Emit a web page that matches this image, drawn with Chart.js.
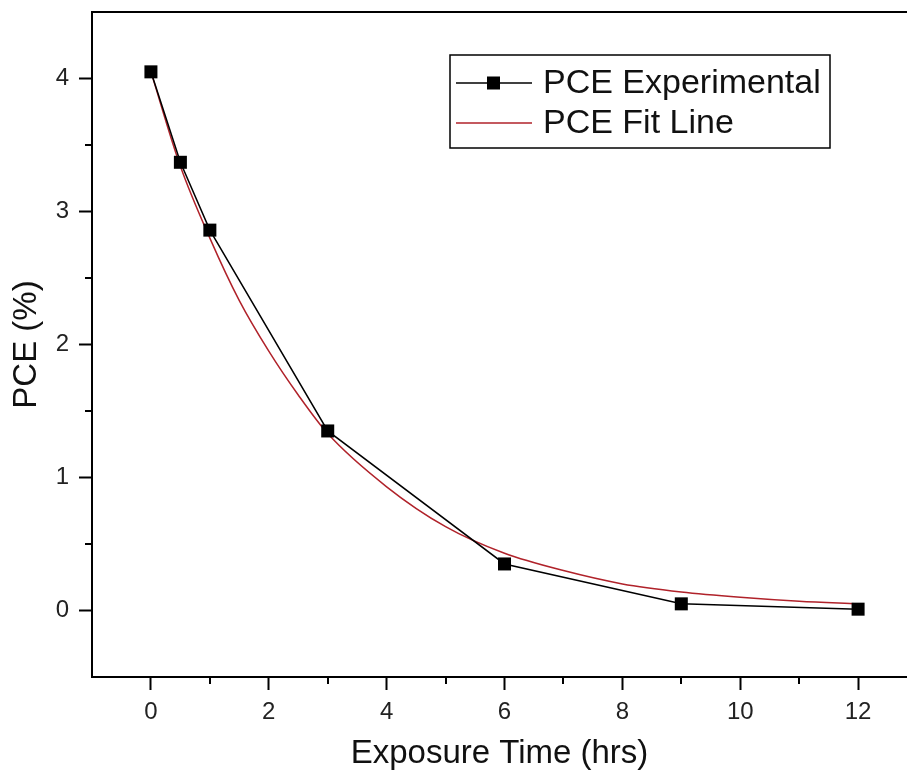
<!DOCTYPE html>
<html>
<head>
<meta charset="utf-8">
<script src="https://cdn.jsdelivr.net/npm/chart.js@4/dist/chart.umd.min.js"></script>
<style>
  html, body { margin: 0; padding: 0; background: #fff; }
  #wrap { width: 907px; height: 780px; position: relative; }
</style>
</head>
<body>
<div id="wrap"><canvas id="c" width="907" height="780"></canvas></div>
<script>
// ---- data ----
const expTime = [0, 0.5, 1, 3, 6, 9, 12];
const expPCE  = [4.05, 3.37, 2.86, 1.35, 0.35, 0.05, 0.01];

const fitTime = [0, 0.5, 1, 1.5, 2, 2.5, 3, 4, 5, 6, 7, 8, 9, 10, 11, 12];
const fitPCE  = [4.05, 3.34, 2.80, 2.33, 1.95, 1.62, 1.33, 0.93, 0.63, 0.43, 0.30, 0.20, 0.14, 0.10, 0.07, 0.05];

const xTickValues = [0, 2, 4, 6, 8, 10, 12];
const xMinorTicks = [1, 3, 5, 7, 9, 11];
const yTickValues = [0, 1, 2, 3, 4];
const yMinorTicks = [0.5, 1.5, 2.5, 3.5];

const seriesNames = ['PCE Experimental', 'PCE Fit Line'];
const xTitle = 'Exposure Time (hrs)';
const yTitle = 'PCE (%)';

const FONT = "'Liberation Sans', Arial, sans-serif";
const RED = '#b0222a';

const zip = (xs, ys) => xs.map((x, i) => ({ x: x, y: ys[i] }));

const extras = {
  id: 'extras',
  afterDraw(chart) {
    const ctx = chart.ctx;
    const ca = chart.chartArea;
    const xs = chart.scales.x, ys = chart.scales.y;
    ctx.save();
    ctx.strokeStyle = '#000';
    ctx.lineWidth = 2;
    // top frame line
    ctx.beginPath();
    ctx.moveTo(ca.left - 1, ca.top);
    ctx.lineTo(ca.right, ca.top);
    ctx.stroke();
    // minor ticks
    ctx.lineWidth = 2;
    xMinorTicks.forEach(v => {
      const px = Math.round(xs.getPixelForValue(v));
      ctx.beginPath();
      ctx.moveTo(px, ca.bottom);
      ctx.lineTo(px, ca.bottom + 7);
      ctx.stroke();
    });
    yMinorTicks.forEach(v => {
      const py = Math.round(ys.getPixelForValue(v));
      ctx.beginPath();
      ctx.moveTo(ca.left, py);
      ctx.lineTo(ca.left - 7, py);
      ctx.stroke();
    });
    // legend
    const bx = 450, by = 55, bw = 380, bh = 93;
    ctx.fillStyle = '#fff';
    ctx.fillRect(bx, by, bw, bh);
    ctx.lineWidth = 1.5;
    ctx.strokeStyle = '#000';
    ctx.strokeRect(bx, by, bw, bh);
    const rows = [83, 123];
    // row 1
    ctx.beginPath();
    ctx.moveTo(456, rows[0]);
    ctx.lineTo(532, rows[0]);
    ctx.lineWidth = 1.5;
    ctx.strokeStyle = '#000';
    ctx.stroke();
    ctx.fillStyle = '#000';
    ctx.fillRect(487, rows[0] - 6.5, 13, 13);
    // row 2
    ctx.beginPath();
    ctx.moveTo(456, rows[1]);
    ctx.lineTo(532, rows[1]);
    ctx.strokeStyle = RED;
    ctx.stroke();
    ctx.fillStyle = '#111';
    ctx.font = '34px ' + FONT;
    ctx.textBaseline = 'middle';
    ctx.textAlign = 'left';
    ctx.fillText(seriesNames[0], 543, rows[0] + 1);
    ctx.fillText(seriesNames[1], 543, rows[1] + 1);
    ctx.restore();
  }
};

new Chart(document.getElementById('c'), {
  type: 'scatter',
  data: {
    datasets: [
      {
        label: seriesNames[0],
        data: zip(expTime, expPCE),
        showLine: true,
        borderColor: '#000',
        borderWidth: 1.5,
        backgroundColor: '#000',
        pointStyle: 'rect',
        pointRadius: 9.2,
        pointHoverRadius: 9.2,
        pointBorderWidth: 0,
        tension: 0
      },
      {
        label: seriesNames[1],
        data: zip(fitTime, fitPCE),
        showLine: true,
        borderColor: RED,
        borderWidth: 1.5,
        pointRadius: 0,
        cubicInterpolationMode: 'monotone'
      }
    ]
  },
  options: {
    responsive: false,
    animation: false,
    events: [],
    layout: { autoPadding: false, padding: { top: 12, right: 0, left: 0, bottom: 0 } },
    plugins: { legend: { display: false }, tooltip: { enabled: false } },
    scales: {
      x: {
        type: 'linear',
        min: -1,
        max: 12.83,
        afterBuildTicks: s => { s.ticks = xTickValues.map(v => ({ value: v })); },
        afterFit: s => { s.height = 103; s.paddingLeft = 0; s.paddingRight = 0; },
        border: { color: '#000', width: 2 },
        grid: { drawOnChartArea: false, drawTicks: true, tickLength: 13, tickColor: '#000', tickWidth: 2 },
        ticks: { color: '#222', font: { family: FONT, size: 24 }, padding: 8, maxRotation: 0 },
        title: { display: true, text: xTitle, color: '#111', font: { family: FONT, size: 33 }, padding: { top: 0, bottom: 6 } }
      },
      y: {
        type: 'linear',
        min: -0.5,
        max: 4.5,
        afterBuildTicks: s => { s.ticks = yTickValues.map(v => ({ value: v })); },
        afterFit: s => { s.width = 92; s.paddingTop = 0; s.paddingBottom = 0; },
        border: { color: '#000', width: 2 },
        grid: { drawOnChartArea: false, drawTicks: true, tickLength: 13, tickColor: '#000', tickWidth: 2 },
        ticks: { color: '#222', font: { family: FONT, size: 24 }, padding: 10 },
        title: { display: true, text: yTitle, color: '#111', font: { family: FONT, size: 33 }, padding: { top: 7, bottom: 0 } }
      }
    }
  },
  plugins: [extras]
});
</script>
</body>
</html>
